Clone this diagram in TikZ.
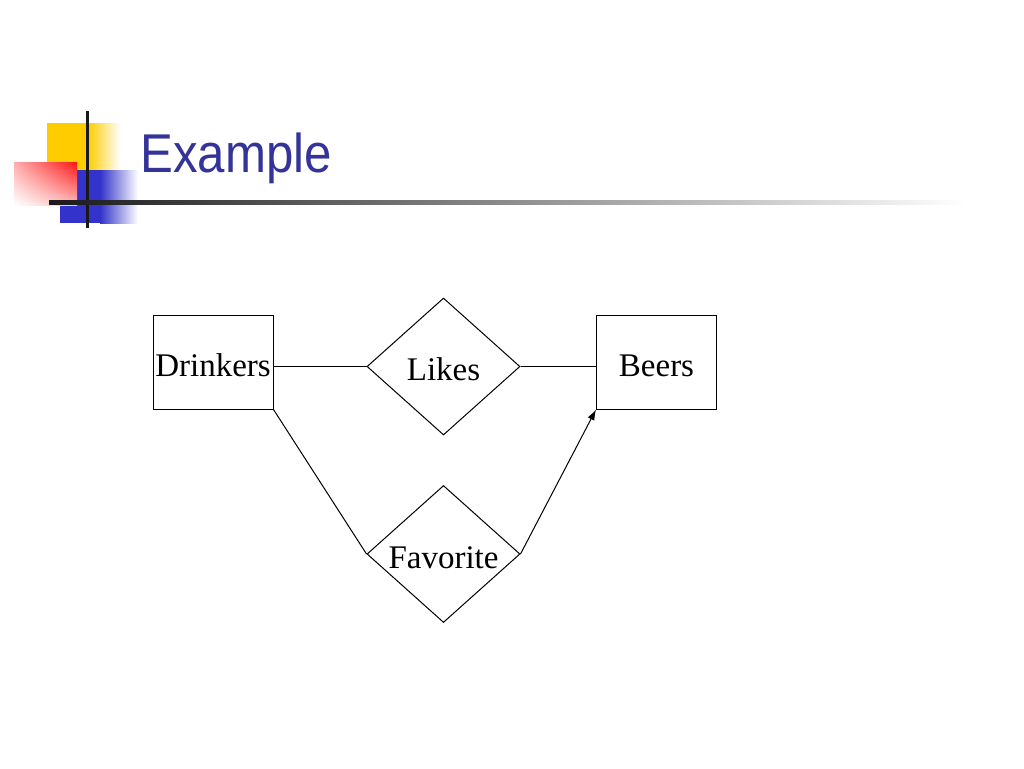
\documentclass[tikz,border=0pt]{standalone}
\usepackage{fontspec}
\setmainfont{Liberation Serif}
\newfontfamily\titlefont{Liberation Sans}
\usetikzlibrary{shapes.geometric,arrows.meta,shadings}
\definecolor{titleblue}{RGB}{51,51,153}
\definecolor{logoyellow}{RGB}{255,204,0}
\definecolor{logoblue}{RGB}{51,51,204}
\definecolor{logored}{RGB}{255,20,20}
\tikzset{
  entity/.style={draw, line width=0.75pt, minimum width=90pt, minimum height=70.5pt,
    inner sep=0pt, text height=21.5pt, text depth=0pt, font=\fontsize{24.75}{28}\selectfont},
  rel/.style={draw, diamond, line width=0.75pt, minimum width=114.75pt, minimum height=102.75pt,
    inner sep=0pt, text height=21.5pt, text depth=0pt, font=\fontsize{24.75}{28}\selectfont},
  link/.style={line width=0.75pt}
}

\begin{document}
\begin{tikzpicture}[x=0.75pt, y=-0.75pt]
	%%%%% PAGE %%%%%
	\fill[white] (0, 0) rectangle (1024, 768);
	\useasboundingbox (0, 0) rectangle (1024, 768);
	
	%%%%% LOGO %%%%%
	\fill[logoyellow] (47, 123) rectangle (88, 172);
	\shade[left color=logoyellow, right color=white] (88, 123) rectangle (120, 172);
	
	\fill[logoblue] (60, 170) rectangle (100, 223);
	\shade[left color=logoblue, right color=white] (100, 170) rectangle (138, 223);
	
	\shade[upper right=logored, upper left=logored!35, lower right=logored!30, lower left=white] (14, 162) rectangle (77, 205);
	
	\fill[black!90] (86, 111) rectangle (89, 228);
	\shade[left color=black!90, right color=white] (49, 200) rectangle (965, 204);
	
	\node[anchor=base west, inner sep=0pt, text=titleblue, font=\titlefont\fontsize{41}{44}\selectfont] (title) at (140, 172) {\scalebox{0.9}[1]{Example}};
	
	%%%%% DIAGRAM %%%%%
	\node[entity] (drinkers) at (213, 362) {Drinkers};
	\node[entity] (beers) at (656.5, 362) {Beers};
	\node[rel] (likes) at (443.5, 366.5) {\makebox[0pt]{Likes}};
	\node[rel] (favorite) at (443.5, 554) {\makebox[0pt]{Favorite}};
	
	\draw[link] (likes.west -| drinkers.east) -- (likes.west);
	\draw[link] (likes.east) -- (likes.east -| beers.west);
	\draw[link] (drinkers.south east) -- (favorite.west);
	\draw[link, -{Latex[length=8pt, width=5.5pt]}] (favorite.east) -- (beers.south west);
	
	%%%%% END %%%%%
\end{tikzpicture}
\end{document}
